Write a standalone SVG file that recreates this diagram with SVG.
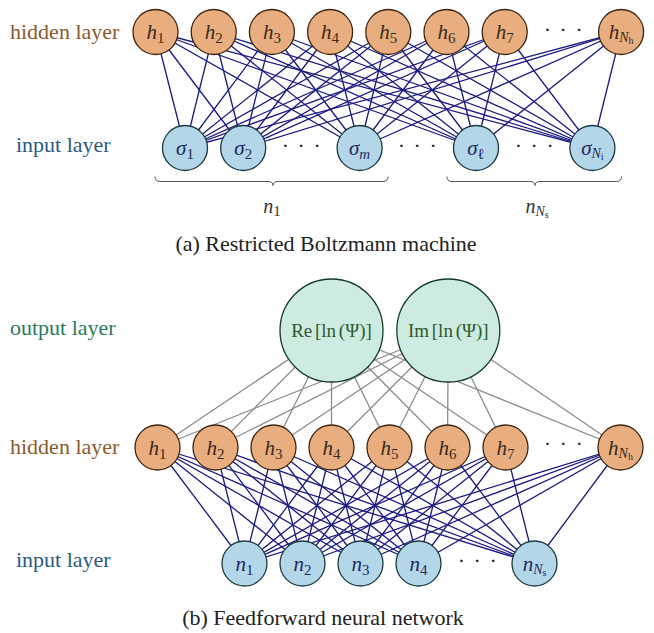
<svg xmlns="http://www.w3.org/2000/svg" width="654" height="633" viewBox="0 0 654 633" font-family="Liberation Serif, DejaVu Serif, serif">
<style>
text, tspan{font-family:'Liberation Serif','DejaVu Serif',serif}
.lbl{font-size:22px}
.hl{fill:#8b5a2b}.il{fill:#2a5c80}.ol{fill:#2a7a5e}
.cap{font-size:22px;fill:#222;text-anchor:middle}
.hid{fill:#e9ae7f;stroke:#3d2410;stroke-width:1.3}
.inp{fill:#b4d6e9;stroke:#1b3a3f;stroke-width:1.3}
.out{fill:#cdebe1;stroke:#163a2a;stroke-width:1.3}
.ht{fill:#3a2a1a;font-size:21px;text-anchor:middle}
.it{fill:#1d2a5c;font-size:21px;text-anchor:middle}
.ot{fill:#2d5a2d;font-size:19px;text-anchor:middle;word-spacing:-2px}
.i{font-style:italic}
.s{font-size:15px}
.ss{font-size:10px}
.sn{font-size:14px;font-style:italic}
.dots{font-size:22px;fill:#222;text-anchor:middle;letter-spacing:1.5px}
.w line{stroke:#1a1a80;stroke-width:1.3}
.g line{stroke:#8c8c8c;stroke-width:1.3}
.brace{fill:none;stroke:#444;stroke-width:0.9}
.bl{font-size:20px;fill:#333;text-anchor:middle}
</style>

<!-- layer labels -->
<text class="lbl hl" x="10" y="39">hidden layer</text>
<text class="lbl il" x="16" y="152">input layer</text>
<text class="lbl ol" x="10" y="335">output layer</text>
<text class="lbl hl" x="10" y="454">hidden layer</text>
<text class="lbl il" x="16" y="567">input layer</text>

<!-- connectors -->
<g id="connectors">
<g id="rbm-edges" class="w">
<line x1="155.5" y1="32" x2="185" y2="148"/><line x1="155.5" y1="32" x2="243.2" y2="148"/><line x1="155.5" y1="32" x2="359.6" y2="148"/><line x1="155.5" y1="32" x2="476" y2="148"/><line x1="155.5" y1="32" x2="592.4" y2="148"/>
<line x1="213.7" y1="32" x2="185" y2="148"/><line x1="213.7" y1="32" x2="243.2" y2="148"/><line x1="213.7" y1="32" x2="359.6" y2="148"/><line x1="213.7" y1="32" x2="476" y2="148"/><line x1="213.7" y1="32" x2="592.4" y2="148"/>
<line x1="271.9" y1="32" x2="185" y2="148"/><line x1="271.9" y1="32" x2="243.2" y2="148"/><line x1="271.9" y1="32" x2="359.6" y2="148"/><line x1="271.9" y1="32" x2="476" y2="148"/><line x1="271.9" y1="32" x2="592.4" y2="148"/>
<line x1="330.1" y1="32" x2="185" y2="148"/><line x1="330.1" y1="32" x2="243.2" y2="148"/><line x1="330.1" y1="32" x2="359.6" y2="148"/><line x1="330.1" y1="32" x2="476" y2="148"/><line x1="330.1" y1="32" x2="592.4" y2="148"/>
<line x1="388.3" y1="32" x2="185" y2="148"/><line x1="388.3" y1="32" x2="243.2" y2="148"/><line x1="388.3" y1="32" x2="359.6" y2="148"/><line x1="388.3" y1="32" x2="476" y2="148"/><line x1="388.3" y1="32" x2="592.4" y2="148"/>
<line x1="446.5" y1="32" x2="185" y2="148"/><line x1="446.5" y1="32" x2="243.2" y2="148"/><line x1="446.5" y1="32" x2="359.6" y2="148"/><line x1="446.5" y1="32" x2="476" y2="148"/><line x1="446.5" y1="32" x2="592.4" y2="148"/>
<line x1="504.7" y1="32" x2="185" y2="148"/><line x1="504.7" y1="32" x2="243.2" y2="148"/><line x1="504.7" y1="32" x2="359.6" y2="148"/><line x1="504.7" y1="32" x2="476" y2="148"/><line x1="504.7" y1="32" x2="592.4" y2="148"/>
<line x1="621.1" y1="32" x2="185" y2="148"/><line x1="621.1" y1="32" x2="243.2" y2="148"/><line x1="621.1" y1="32" x2="359.6" y2="148"/><line x1="621.1" y1="32" x2="476" y2="148"/><line x1="621.1" y1="32" x2="592.4" y2="148"/>
</g>
<g id="ffnn-output-edges" class="g">
<line x1="331.5" y1="330.5" x2="157.5" y2="447.5"/><line x1="331.5" y1="330.5" x2="215.5" y2="447.5"/><line x1="331.5" y1="330.5" x2="273.5" y2="447.5"/><line x1="331.5" y1="330.5" x2="331.5" y2="447.5"/><line x1="331.5" y1="330.5" x2="389.5" y2="447.5"/><line x1="331.5" y1="330.5" x2="447.5" y2="447.5"/><line x1="331.5" y1="330.5" x2="505.5" y2="447.5"/><line x1="331.5" y1="330.5" x2="620.5" y2="447.5"/>
<line x1="448.3" y1="330.5" x2="157.5" y2="447.5"/><line x1="448.3" y1="330.5" x2="215.5" y2="447.5"/><line x1="448.3" y1="330.5" x2="273.5" y2="447.5"/><line x1="448.3" y1="330.5" x2="331.5" y2="447.5"/><line x1="448.3" y1="330.5" x2="389.5" y2="447.5"/><line x1="448.3" y1="330.5" x2="447.5" y2="447.5"/><line x1="448.3" y1="330.5" x2="505.5" y2="447.5"/><line x1="448.3" y1="330.5" x2="620.5" y2="447.5"/>
</g>
<g id="ffnn-input-edges" class="w">
<line x1="157.5" y1="447.5" x2="244.5" y2="563.5"/><line x1="157.5" y1="447.5" x2="302.5" y2="563.5"/><line x1="157.5" y1="447.5" x2="360.5" y2="563.5"/><line x1="157.5" y1="447.5" x2="418.5" y2="563.5"/><line x1="157.5" y1="447.5" x2="534.5" y2="563.5"/>
<line x1="215.5" y1="447.5" x2="244.5" y2="563.5"/><line x1="215.5" y1="447.5" x2="302.5" y2="563.5"/><line x1="215.5" y1="447.5" x2="360.5" y2="563.5"/><line x1="215.5" y1="447.5" x2="418.5" y2="563.5"/><line x1="215.5" y1="447.5" x2="534.5" y2="563.5"/>
<line x1="273.5" y1="447.5" x2="244.5" y2="563.5"/><line x1="273.5" y1="447.5" x2="302.5" y2="563.5"/><line x1="273.5" y1="447.5" x2="360.5" y2="563.5"/><line x1="273.5" y1="447.5" x2="418.5" y2="563.5"/><line x1="273.5" y1="447.5" x2="534.5" y2="563.5"/>
<line x1="331.5" y1="447.5" x2="244.5" y2="563.5"/><line x1="331.5" y1="447.5" x2="302.5" y2="563.5"/><line x1="331.5" y1="447.5" x2="360.5" y2="563.5"/><line x1="331.5" y1="447.5" x2="418.5" y2="563.5"/><line x1="331.5" y1="447.5" x2="534.5" y2="563.5"/>
<line x1="389.5" y1="447.5" x2="244.5" y2="563.5"/><line x1="389.5" y1="447.5" x2="302.5" y2="563.5"/><line x1="389.5" y1="447.5" x2="360.5" y2="563.5"/><line x1="389.5" y1="447.5" x2="418.5" y2="563.5"/><line x1="389.5" y1="447.5" x2="534.5" y2="563.5"/>
<line x1="447.5" y1="447.5" x2="244.5" y2="563.5"/><line x1="447.5" y1="447.5" x2="302.5" y2="563.5"/><line x1="447.5" y1="447.5" x2="360.5" y2="563.5"/><line x1="447.5" y1="447.5" x2="418.5" y2="563.5"/><line x1="447.5" y1="447.5" x2="534.5" y2="563.5"/>
<line x1="505.5" y1="447.5" x2="244.5" y2="563.5"/><line x1="505.5" y1="447.5" x2="302.5" y2="563.5"/><line x1="505.5" y1="447.5" x2="360.5" y2="563.5"/><line x1="505.5" y1="447.5" x2="418.5" y2="563.5"/><line x1="505.5" y1="447.5" x2="534.5" y2="563.5"/>
<line x1="620.5" y1="447.5" x2="244.5" y2="563.5"/><line x1="620.5" y1="447.5" x2="302.5" y2="563.5"/><line x1="620.5" y1="447.5" x2="360.5" y2="563.5"/><line x1="620.5" y1="447.5" x2="418.5" y2="563.5"/><line x1="620.5" y1="447.5" x2="534.5" y2="563.5"/>
</g>
</g>

<!-- (a) RBM nodes -->
<g id="a-h1"><circle class="hid" cx="155.5" cy="32" r="22.5"/><text class="ht" x="155.5" y="39"><tspan class="i">h</tspan><tspan class="s" dy="4">1</tspan></text></g>
<g id="a-h2"><circle class="hid" cx="213.7" cy="32" r="22.5"/><text class="ht" x="213.7" y="39"><tspan class="i">h</tspan><tspan class="s" dy="4">2</tspan></text></g>
<g id="a-h3"><circle class="hid" cx="271.9" cy="32" r="22.5"/><text class="ht" x="271.9" y="39"><tspan class="i">h</tspan><tspan class="s" dy="4">3</tspan></text></g>
<g id="a-h4"><circle class="hid" cx="330.1" cy="32" r="22.5"/><text class="ht" x="330.1" y="39"><tspan class="i">h</tspan><tspan class="s" dy="4">4</tspan></text></g>
<g id="a-h5"><circle class="hid" cx="388.3" cy="32" r="22.5"/><text class="ht" x="388.3" y="39"><tspan class="i">h</tspan><tspan class="s" dy="4">5</tspan></text></g>
<g id="a-h6"><circle class="hid" cx="446.5" cy="32" r="22.5"/><text class="ht" x="446.5" y="39"><tspan class="i">h</tspan><tspan class="s" dy="4">6</tspan></text></g>
<g id="a-h7"><circle class="hid" cx="504.7" cy="32" r="22.5"/><text class="ht" x="504.7" y="39"><tspan class="i">h</tspan><tspan class="s" dy="4">7</tspan></text></g>
<text class="dots" x="564" y="37">· · ·</text>
<g id="a-hN"><circle class="hid" cx="621.1" cy="32" r="22.5"/><text class="ht" x="621.1" y="39"><tspan class="i">h</tspan><tspan class="sn" dy="3">N</tspan><tspan class="ss" dy="2">h</tspan></text></g>

<g id="a-s1"><circle class="inp" cx="185" cy="148" r="22.5"/><text class="it" x="185" y="155"><tspan class="i">σ</tspan><tspan class="s" dy="4">1</tspan></text></g>
<g id="a-s2"><circle class="inp" cx="243.2" cy="148" r="22.5"/><text class="it" x="243.2" y="155"><tspan class="i">σ</tspan><tspan class="s" dy="4">2</tspan></text></g>
<text class="dots" x="302" y="153">· · ·</text>
<g id="a-sm"><circle class="inp" cx="359.6" cy="148" r="22.5"/><text class="it" x="359.6" y="155"><tspan class="i">σ</tspan><tspan class="s i" dy="4">m</tspan></text></g>
<text class="dots" x="418" y="153">· · ·</text>
<g id="a-sl"><circle class="inp" cx="476" cy="148" r="22.5"/><text class="it" x="476" y="155"><tspan class="i">σ</tspan><tspan class="s" dy="4">ℓ</tspan></text></g>
<text class="dots" x="535" y="153">· · ·</text>
<g id="a-sN"><circle class="inp" cx="592.4" cy="148" r="22.5"/><text class="it" x="592.4" y="155"><tspan class="i">σ</tspan><tspan class="sn" dy="3">N</tspan><tspan class="ss" dy="2">i</tspan></text></g>

<g id="a-braces">
<path class="brace" d="M155,176.5 Q155,181.5 160,181.5 L268,181.5 Q273,181.5 273,185.5 Q273,181.5 278,181.5 L383,181.5 Q388,181.5 388,176.5"/>
<path class="brace" d="M447,176.5 Q447,181.5 452,181.5 L530,181.5 Q535,181.5 535,185.5 Q535,181.5 540,181.5 L616.5,181.5 Q621.5,181.5 621.5,176.5"/>
<text class="bl" x="272" y="213"><tspan class="i">n</tspan><tspan class="s" dy="3">1</tspan></text>
<text class="bl" x="537" y="213"><tspan class="i">n</tspan><tspan class="sn" dy="3">N</tspan><tspan class="ss" dy="2">s</tspan></text>
</g>
<text class="cap" x="326" y="251">(a) Restricted Boltzmann machine</text>

<!-- (b) FFNN nodes -->
<g id="b-re"><circle class="out" cx="331.5" cy="330.5" r="51.5"/><text class="ot" x="331.5" y="337">Re [ln (Ψ)]</text></g>
<g id="b-im"><circle class="out" cx="448.3" cy="330.5" r="51.5"/><text class="ot" x="448.3" y="337">Im [ln (Ψ)]</text></g>

<g id="b-h1"><circle class="hid" cx="157.5" cy="447.5" r="22.5"/><text class="ht" x="157.5" y="454.5"><tspan class="i">h</tspan><tspan class="s" dy="4">1</tspan></text></g>
<g id="b-h2"><circle class="hid" cx="215.5" cy="447.5" r="22.5"/><text class="ht" x="215.5" y="454.5"><tspan class="i">h</tspan><tspan class="s" dy="4">2</tspan></text></g>
<g id="b-h3"><circle class="hid" cx="273.5" cy="447.5" r="22.5"/><text class="ht" x="273.5" y="454.5"><tspan class="i">h</tspan><tspan class="s" dy="4">3</tspan></text></g>
<g id="b-h4"><circle class="hid" cx="331.5" cy="447.5" r="22.5"/><text class="ht" x="331.5" y="454.5"><tspan class="i">h</tspan><tspan class="s" dy="4">4</tspan></text></g>
<g id="b-h5"><circle class="hid" cx="389.5" cy="447.5" r="22.5"/><text class="ht" x="389.5" y="454.5"><tspan class="i">h</tspan><tspan class="s" dy="4">5</tspan></text></g>
<g id="b-h6"><circle class="hid" cx="447.5" cy="447.5" r="22.5"/><text class="ht" x="447.5" y="454.5"><tspan class="i">h</tspan><tspan class="s" dy="4">6</tspan></text></g>
<g id="b-h7"><circle class="hid" cx="505.5" cy="447.5" r="22.5"/><text class="ht" x="505.5" y="454.5"><tspan class="i">h</tspan><tspan class="s" dy="4">7</tspan></text></g>
<text class="dots" x="564" y="451">· · ·</text>
<g id="b-hN"><circle class="hid" cx="620.5" cy="447.5" r="22.5"/><text class="ht" x="620.5" y="454.5"><tspan class="i">h</tspan><tspan class="sn" dy="3">N</tspan><tspan class="ss" dy="2">h</tspan></text></g>

<g id="b-n1"><circle class="inp" cx="244.5" cy="563.5" r="22.5"/><text class="it" x="244.5" y="570.5"><tspan class="i">n</tspan><tspan class="s" dy="4">1</tspan></text></g>
<g id="b-n2"><circle class="inp" cx="302.5" cy="563.5" r="22.5"/><text class="it" x="302.5" y="570.5"><tspan class="i">n</tspan><tspan class="s" dy="4">2</tspan></text></g>
<g id="b-n3"><circle class="inp" cx="360.5" cy="563.5" r="22.5"/><text class="it" x="360.5" y="570.5"><tspan class="i">n</tspan><tspan class="s" dy="4">3</tspan></text></g>
<g id="b-n4"><circle class="inp" cx="418.5" cy="563.5" r="22.5"/><text class="it" x="418.5" y="570.5"><tspan class="i">n</tspan><tspan class="s" dy="4">4</tspan></text></g>
<text class="dots" x="478" y="568">· · ·</text>
<g id="b-nN"><circle class="inp" cx="534.5" cy="563.5" r="22.5"/><text class="it" x="534.5" y="570.5"><tspan class="i">n</tspan><tspan class="sn" dy="3">N</tspan><tspan class="ss" dy="2">s</tspan></text></g>

<text class="cap" x="323" y="625">(b) Feedforward neural network</text>
</svg>
